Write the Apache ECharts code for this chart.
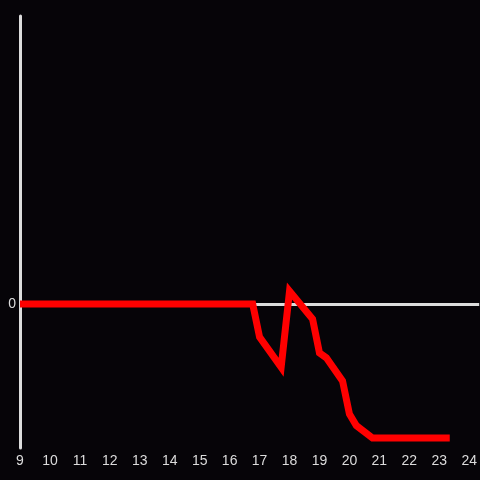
<!DOCTYPE html>
<html>
<head>
<meta charset="utf-8">
<script src="https://cdn.jsdelivr.net/npm/echarts@6/dist/echarts.min.js"></script>
<style>
  html, body { margin: 0; padding: 0; background: #060408; }
  #chart { width: 480px; height: 480px; }
</style>
</head>
<body>
<div id="chart"></div>
<script>
// hours of the day and the value read at that time
const hours = [9, 16.77, 17.0, 17.72, 18.0, 18.77, 19.0, 19.23, 19.77, 20.0, 20.23, 20.77, 23.35]
const values = [0, 0, -1.15, -2.2, 0.45, -0.52, -1.7, -1.87, -2.67, -3.82, -4.22, -4.65, -4.65]
const xMin = 9
const xMax = 24.333

const chart = echarts.init(document.getElementById('chart'))
const axisColor = '#dcdcdc'
const opt = {
  backgroundColor: '#060408',
  animation: false,
  grid: { left: 20, right: 0, top: 16, bottom: 32 },
  xAxis: {
    type: 'value',
    min: xMin,
    max: xMax,
    interval: 1,
    axisLine: { show: false },
    axisTick: { show: false },
    splitLine: { show: false },
    axisLabel: {
      color: axisColor,
      fontSize: 14,
      fontFamily: 'Liberation Sans',
      margin: 6,
      showMaxLabel: false,
      formatter: v => (Number.isInteger(v) ? String(v) : '')
    }
  },
  yAxis: {
    type: 'value',
    min: -5,
    max: 10,
    interval: 5,
    axisLine: { show: true, onZero: false, lineStyle: { color: axisColor, width: 3 } },
    axisTick: { show: false },
    splitLine: { show: false },
    axisLabel: {
      color: axisColor,
      fontSize: 14,
      fontFamily: 'Liberation Sans',
      margin: 4,
      formatter: v => (v === 0 ? '0' : '')
    }
  },
  series: [
    {
      // zero line, under the data line
      type: 'line',
      data: [],
      z: 1,
      silent: true,
      markLine: {
        silent: true,
        symbol: 'none',
        label: { show: false },
        lineStyle: { color: axisColor, width: 3, type: 'solid' },
        data: [{ yAxis: 0 }]
      }
    },
    {
      type: 'line',
      data: hours.map((h, i) => [h, values[i]]),
      symbol: 'none',
      lineStyle: { color: '#ff0000', width: 7, join: 'miter' },
      z: 5
    }
  ]
}
chart.setOption(opt)
</script>
</body>
</html>
